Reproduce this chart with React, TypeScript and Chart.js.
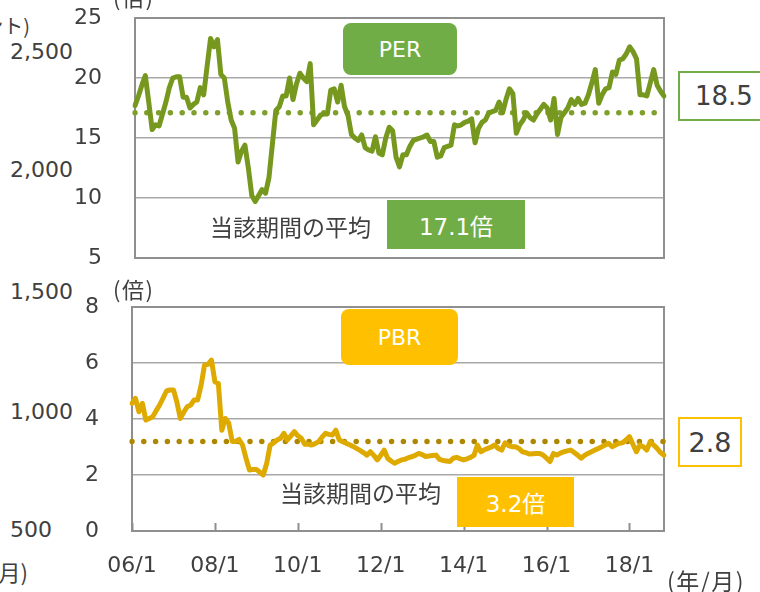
import React, { useEffect, useRef } from 'react';
import { Chart, registerables } from 'chart.js';

Chart.register(...registerables);

// ---- data ----
const monthLabels: string[] = [];
for (let y = 6; y <= 18; y++) {
  for (let m = 1; m <= 12; m++) {
    monthLabels.push(`${String(y).padStart(2, '0')}/${m}`);
  }
}
const categories = monthLabels.slice(0, 155); // 06/1 .. 18/11

const tickLabels = ['06/1', '08/1', '10/1', '12/1', '14/1', '16/1', '18/1'];

const perValues = [
  17.7, 18.5, 19.4, 20.2, 18.0, 15.7, 16.1, 16.0, 17.0, 18.0,
  19.2, 20.0, 20.1, 20.1, 18.4, 18.4, 17.5, 17.8, 18.0, 19.2,
  18.6, 21.0, 23.3, 22.6, 23.2, 20.3, 20.0, 18.0, 16.5, 15.8,
  13.0, 13.9, 14.4, 12.5, 10.2, 9.7, 10.2, 10.7, 10.4, 11.7,
  14.5, 17.3, 17.6, 18.5, 18.5, 20.0, 18.2, 19.5, 20.4, 20.0,
  19.7, 21.2, 16.1, 16.5, 16.9, 17.0, 17.0, 19.0, 19.1, 18.0,
  19.4, 17.6, 16.9, 15.3, 15.0, 14.8, 15.25, 14.2, 14.0, 13.9,
  15.1, 13.75, 13.6, 15.0, 15.9, 15.6, 13.4, 12.6, 13.6, 13.6,
  14.3, 14.8, 14.9, 15.0, 15.1, 15.25, 14.7, 14.7, 13.4, 13.5,
  14.2, 14.3, 14.4, 16.1, 16.0, 16.1, 16.3, 16.4, 16.6, 14.6,
  15.8, 16.3, 16.5, 17.1, 17.2, 17.3, 18.0, 17.1, 18.2, 19.1,
  18.7, 15.4, 16.1, 16.5, 17.1, 16.7, 16.5, 17.0, 17.4, 17.8,
  17.5, 16.5, 18.3, 15.3, 16.7, 17.1, 17.5, 18.2, 17.8, 18.3,
  17.8, 17.9, 18.6, 19.6, 20.7, 17.9, 18.6, 19.1, 19.2, 20.5,
  20.3, 21.5, 21.6, 22.0, 22.6, 22.2, 21.6, 18.6, 18.6, 18.5,
  19.6, 20.7, 19.4, 18.9, 18.5,
];

const pbrValues = [
  4.56, 4.74, 4.26, 4.56, 3.96, 4.02, 4.08, 4.3, 4.5, 4.75,
  5.0, 5.04, 5.04, 4.6, 4.02, 4.25, 4.44, 4.5, 4.68, 4.68,
  5.2, 5.93, 5.95, 6.1, 5.33, 5.27, 3.6, 4.02, 3.85, 3.2,
  3.2, 3.27, 3.07, 2.6, 2.18, 2.2, 2.2, 2.1, 2.0, 2.42,
  3.07, 3.15, 3.25, 3.31, 3.49, 3.25, 3.4, 3.55, 3.4, 3.31,
  3.1, 3.1, 3.07, 3.12, 3.19, 3.35, 3.49, 3.45, 3.43, 3.6,
  3.25, 3.19, 3.13, 3.08, 3.02, 2.95, 2.88, 2.8, 2.71, 2.83,
  2.7, 2.54, 2.7, 2.89, 2.6, 2.5, 2.42, 2.48, 2.54, 2.56,
  2.62, 2.65, 2.7, 2.77, 2.73, 2.66, 2.68, 2.7, 2.71, 2.56,
  2.52, 2.5, 2.48, 2.6, 2.63, 2.58, 2.54, 2.58, 2.63, 2.7,
  3.07, 2.83, 2.9, 2.95, 3.0, 3.07, 2.95, 2.89, 3.15, 3.05,
  3.01, 3.01, 2.95, 2.83, 2.8, 2.75, 2.76, 2.77, 2.77, 2.71,
  2.6, 2.48, 2.77, 2.71, 2.78, 2.83, 2.86, 2.89, 2.8, 2.71,
  2.6, 2.7, 2.77, 2.83, 2.89, 2.95, 3.01, 3.07, 3.13, 3.01,
  3.07, 3.13, 3.15, 3.25, 3.37, 3.1, 2.83, 3.07, 3.01, 2.89,
  3.19, 3.07, 2.95, 2.8, 2.71,
];

const perAverage = 17.1;
const pbrAverage = 3.2;
const perLatest = '18.5';
const pbrLatest = '2.8';
const perRange = [5, 25];
const pbrRange = [0, 8];
const perStep = 5;
const pbrStep = 2;

// ---- styling ----
const TEXT = '#404040';
const PER_LINE = '#76981E';
const PER_DOT = '#7E9F2C';
const PER_BOX = '#70AD47';
const PBR_LINE = '#DFAA00';
const PBR_DOT = '#AE8700';
const PBR_BOX = '#FFC000';
const LATIN = "'DejaVu Sans', 'Noto Sans CJK JP', sans-serif";
const CJK = "'Noto Sans CJK JP', 'DejaVu Sans', sans-serif";

function framePlugin(withTicks: boolean) {
  return {
    id: 'frame' + (withTicks ? 'T' : 'N'),
    beforeDatasetsDraw(chart: any) {
      const { ctx, chartArea: a } = chart;
      ctx.save();
      ctx.strokeStyle = '#8f8f8f';
      ctx.lineWidth = 2;
      ctx.strokeRect(a.left, a.top, a.right - a.left, a.bottom - a.top);
      if (withTicks) {
        const xs = chart.scales.x;
        tickLabels.forEach((t) => {
          const i = categories.indexOf(t);
          if (i < 0) return;
          const px = Math.round(xs.getPixelForValue(i)) + 0.5;
          ctx.beginPath();
          ctx.moveTo(px, a.bottom);
          ctx.lineTo(px, a.bottom - 8);
          ctx.stroke();
        });
      }
      ctx.restore();
    },
  };
}

function buildConfig(
  values: number[],
  avg: number,
  range: number[],
  step: number,
  lineColor: string,
  dotColor: string,
  yWidth: number,
  top: boolean
): any {
  return {
    type: 'line',
    data: {
      labels: categories,
      datasets: [
        {
          data: values,
          borderColor: lineColor,
          borderWidth: 5,
          pointRadius: 0,
          tension: 0,
          borderJoinStyle: 'round',
          borderCapStyle: 'round',
          fill: false,
        },
        {
          data: categories.map(() => avg),
          borderColor: dotColor,
          borderWidth: 5.5,
          borderDash: [0, 11.8],
          borderCapStyle: 'round',
          pointRadius: 0,
          fill: false,
        },
      ],
    },
    options: {
      animation: false,
      responsive: false,
      maintainAspectRatio: false,
      events: [],
      layout: {
        autoPadding: false,
        padding: top
          ? { left: 0, right: 96, top: 18, bottom: 22 }
          : { left: 0, right: 96, top: 27, bottom: 0 },
      },
      plugins: {
        legend: { display: false },
        tooltip: { enabled: false },
        title: { display: false },
      },
      scales: {
        x: {
          type: 'category',
          display: !top,
          offset: false,
          grid: { display: false, drawTicks: false },
          border: { display: false },
          afterFit: (s: any) => {
            s.height = top ? 0 : 61;
            s.paddingLeft = 0;
            s.paddingRight = 0;
          },
          ticks: {
            autoSkip: false,
            maxRotation: 0,
            minRotation: 0,
            padding: 22,
            color: TEXT,
            font: { family: 'DejaVu Sans', size: 22 },
            callback: (_v: any, i: number) =>
              tickLabels.includes(categories[i]) ? categories[i] : '',
          },
        },
        y: {
          min: range[0],
          max: range[1],
          afterFit: (s: any) => {
            s.width = yWidth;
            s.paddingTop = 0;
            s.paddingBottom = 0;
          },
          grid: {
            color: '#a8a8a8',
            lineWidth: 1.6,
            drawTicks: false,
          },
          border: { display: false },
          ticks: {
            stepSize: step,
            padding: 33,
            color: TEXT,
            font: { family: 'DejaVu Sans', size: 22 },
          },
        },
      },
    },
    plugins: [framePlugin(!top)],
  };
}

function Txt(props: {
  x?: number;
  right?: number;
  y: number;
  size: number;
  font?: string;
  color?: string;
  spacing?: number;
  children: React.ReactNode;
}) {
  const style: React.CSSProperties = {
    position: 'absolute',
    top: props.y,
    transform: 'translateY(-50%)',
    fontSize: props.size,
    lineHeight: 1.2,
    fontFamily: props.font || LATIN,
    color: props.color || TEXT,
    letterSpacing: props.spacing || 0,
    whiteSpace: 'nowrap',
  };
  if (props.right !== undefined) style.right = 760 - props.right;
  else style.left = props.x;
  return <div style={style}>{props.children}</div>;
}

function Box(props: {
  x: number;
  y: number;
  w: number;
  h: number;
  bg: string;
  border?: string;
  radius?: number;
  size: number;
  color: string;
  font?: string;
  align?: 'center' | 'left';
  padLeft?: number;
  children: React.ReactNode;
}) {
  return (
    <div
      style={{
        position: 'absolute',
        left: props.x,
        top: props.y,
        width: props.w,
        height: props.h,
        boxSizing: 'border-box',
        background: props.bg,
        border: props.border ? `2px solid ${props.border}` : 'none',
        borderRadius: props.radius || 0,
        display: 'flex',
        alignItems: 'center',
        justifyContent: props.align === 'left' ? 'flex-start' : 'center',
        paddingLeft: props.padLeft || 0,
        fontSize: props.size,
        fontFamily: props.font || LATIN,
        color: props.color,
        whiteSpace: 'nowrap',
      }}
    >
      {props.children}
    </div>
  );
}

export default function App() {
  const perRef = useRef<HTMLCanvasElement>(null);
  const pbrRef = useRef<HTMLCanvasElement>(null);

  useEffect(() => {
    const c1 = new Chart(
      perRef.current as HTMLCanvasElement,
      buildConfig(perValues, perAverage, perRange, perStep, PER_LINE, PER_DOT, 135, true)
    );
    const c2 = new Chart(
      pbrRef.current as HTMLCanvasElement,
      buildConfig(pbrValues, pbrAverage, pbrRange, pbrStep, PBR_LINE, PBR_DOT, 132, false)
    );
    return () => {
      c1.destroy();
      c2.destroy();
    };
  }, []);

  return (
    <div
      style={{
        position: 'absolute',
        left: 0,
        top: 0,
        width: 760,
        height: 592,
        overflow: 'hidden',
        background: '#ffffff',
      }}
    >
      {/* left-side text from the neighbouring chart */}
      <Txt right={30} y={26} size={20} font={CJK}>ント)</Txt>
      <Txt x={10} y={52} size={22}>2,500</Txt>
      <Txt x={10} y={170} size={22}>2,000</Txt>
      <Txt x={10} y={292} size={22}>1,500</Txt>
      <Txt x={10} y={412} size={22}>1,000</Txt>
      <Txt x={10} y={530} size={22}>500</Txt>
      <Txt right={28} y={571} size={22} font={CJK}>月)</Txt>

      <canvas
        ref={perRef}
        width={760}
        height={280}
        style={{ position: 'absolute', left: 0, top: 0, display: 'block' }}
      />
      <canvas
        ref={pbrRef}
        width={760}
        height={312}
        style={{ position: 'absolute', left: 0, top: 280, display: 'block' }}
      />

      {/* axis unit labels */}
      <Txt x={113} y={-4} size={22} font={CJK} spacing={1.5}>(倍)</Txt>
      <Txt x={113} y={288} size={22} font={CJK} spacing={1.5}>(倍)</Txt>
      <Txt x={667} y={581} size={23} font={CJK} spacing={1.5}>(年/月)</Txt>

      {/* PER annotations */}
      <Box x={343} y={23} w={114} h={52} bg={PER_BOX} radius={8} size={22} color="#ffffff">PER</Box>
      <Txt x={210} y={227} size={23} font={CJK}>当該期間の平均</Txt>
      <Box x={387} y={200} w={138} h={49} bg={PER_BOX} size={23} color="#ffffff">17.1倍</Box>
      <Box x={678} y={71} w={100} h={50} bg="#ffffff" border={PER_BOX} size={26} color={TEXT} align="left" padLeft={15}>{perLatest}</Box>

      {/* PBR annotations */}
      <Box x={341} y={309} w={117} h={56} bg={PBR_BOX} radius={8} size={22} color="#ffffff">PBR</Box>
      <Txt x={280} y={493} size={23} font={CJK}>当該期間の平均</Txt>
      <Box x={457} y={477} w={117} h={50} bg={PBR_BOX} size={23} color="#ffffff">3.2倍</Box>
      <Box x={678} y={417} w={64} h={50} bg="#ffffff" border={PBR_BOX} size={27} color={TEXT}>{pbrLatest}</Box>
    </div>
  );
}
